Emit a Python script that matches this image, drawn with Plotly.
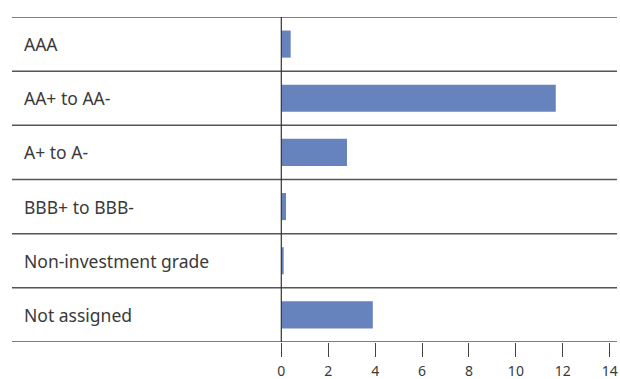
import plotly.graph_objects as go

categories = ["AAA", "AA+ to AA-", "A+ to A-", "BBB+ to BBB-", "Non-investment grade", "Not assigned"]
values = [0.4, 11.7, 2.8, 0.2, 0.1, 3.9]
tick_values = [0, 2, 4, 6, 8, 10, 12, 14]
tick_labels = ["0", "2", "4", "6", "8", "10", "12", "14"]

W, H = 620, 379
ml, mr, mt, mb = 12, 3, 17, 37
FONT = "Noto Sans, Open Sans, sans-serif"

fig = go.Figure()
fig.add_trace(go.Bar(
    x=values, y=list(range(len(categories))), orientation="h",
    marker=dict(color="#6683bd", line=dict(width=0)),
    width=0.5, hoverinfo="skip",
))

shapes = []
for i in range(len(categories) + 1):
    yy = i - 0.5
    shapes.append(dict(type="line", xref="paper", yref="y", x0=0, x1=1, y0=yy, y1=yy,
                       line=dict(color="#555555", width=1.5)))
shapes.append(dict(type="line", xref="x", yref="paper", x0=0, x1=0, y0=0, y1=1,
                   line=dict(color="#333333", width=1.2)))

annotations = []
for i, c in enumerate(categories):
    annotations.append(dict(text=c, xref="paper", yref="y", x=9.5 / (W - ml - mr), y=i,
                            xanchor="left", yanchor="middle", showarrow=False,
                            font=dict(family=FONT, size=17.5, color="#3a3a3a")))

fig.update_layout(
    width=W, height=H,
    margin=dict(l=ml, r=mr, t=mt, b=mb, pad=0, autoexpand=False),
    paper_bgcolor="white", plot_bgcolor="white",
    showlegend=False,
    shapes=shapes, annotations=annotations,
    xaxis=dict(range=[-11.48, 14.31], tickvals=tick_values, ticktext=tick_labels,
               showgrid=False, zeroline=False, showline=False, automargin=False,
               ticks="outside", ticklen=14, tickwidth=1.2, tickcolor="#444444",
               ticklabelstandoff=2,
               tickfont=dict(family=FONT, size=14, color="#3a3a3a"),
               fixedrange=True),
    yaxis=dict(range=[len(categories) - 0.5, -0.5], showticklabels=False, showgrid=False,
               zeroline=False, showline=False, ticks="", fixedrange=True, automargin=False),
)

fig.write_html("out.html", config={"displayModeBar": False},
               post_script="document.body.style.margin='0';document.body.style.padding='0';")
